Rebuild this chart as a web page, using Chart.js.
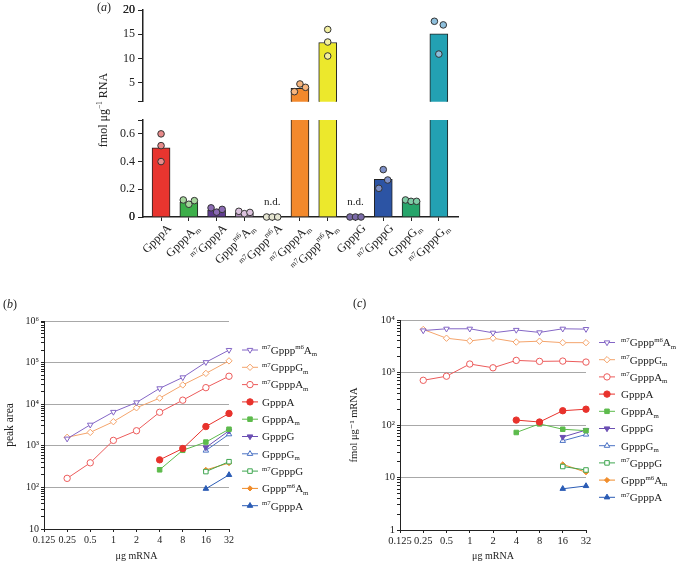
<!DOCTYPE html>
<html>
<head>
<meta charset="utf-8">
<script src="https://cdn.jsdelivr.net/npm/chart.js@4.4.1/dist/chart.umd.min.js"></script>
<style>
  body { margin: 0; background: #fff; }
  #wrap { position: relative; width: 681px; height: 562px; overflow: hidden; }
  canvas { position: absolute; }
</style>
</head>
<body>
<div id="wrap">
  <canvas id="aLow"  width="470" height="285" style="left:0;top:0"></canvas>
  <canvas id="aHigh" width="470" height="112" style="left:0;top:0"></canvas>
  <canvas id="b" width="340" height="272" style="left:0;top:290px"></canvas>
  <canvas id="c" width="341" height="272" style="left:340px;top:290px"></canvas>
</div>
<script>
// ---- (a) キャップ構造ごとの量 (fmol/μg RNA) ----
// {..} = 上付き, [..] = 下付き
var capNames = ["GpppA", "GpppA[m]", "{m7}GpppA", "Gppp{m6}A[m]", "{m7}Gppp{m6}A",
                "{m7}GpppA[m]", "{m7}Gppp{m6}A[m]", "GpppG", "{m7}GpppG", "GpppG[m]", "{m7}GpppG[m]"];
var capMeans = [0.50, 0.105, 0.05, 0.032, 0, 3.8, 13.3, 0, 0.272, 0.114, 15.1];
var capRep1  = [0.60, 0.123, 0.066, 0.041, 0, 3.1, 16.0, 0, 0.342, 0.123, 17.7];
var capRep2  = [0.515, 0.092, 0.035, 0.024, 0, 4.7, 13.4, 0, 0.267, 0.113, 16.95];
var capRep3  = [0.40, 0.118, 0.055, 0.033, 0, 4.0, 10.5, 0, 0.207, 0.113, 10.9];
var notDetected = [false, false, false, false, true, false, false, true, false, false, false];
var aLowTicks  = [0, 0.2, 0.4, 0.6];   // 下段の目盛り
var aHighTicks = [5, 10, 15, 20];      // 上段の目盛り
var aLowMax = 0.7, aHighMin = 1, aHighMax = 20;  // 軸の切れ目

// ---- (b)(c) 共通 ----
var doses  = [0.25, 0.5, 1, 2, 4, 8, 16, 32];
var xTicks = [0.125, 0.25, 0.5, 1, 2, 4, 8, 16, 32];
var seriesNames = ["{m7}Gppp{m6}A[m]", "{m7}GpppG[m]", "{m7}GpppA[m]", "GpppA", "GpppA[m]",
                   "GpppG", "GpppG[m]", "{m7}GpppG", "Gppp{m6}A[m]", "{m7}GpppA"];

// ---- (b) peak area ----
var b_m7Gpppm6Am = [1480, 3200, 6500, 11000, 24000, 44000, 102000, 200000];
var b_m7GpppGm   = [1600, 2100, 3800, 8200, 14000, 29000, 55000, 110000];
var b_m7GpppAm   = [165, 390, 1350, 2300, 6400, 12500, 25000, 47000];
var b_GpppA      = [null, null, null, null, 460, 860, 2900, 6000];
var b_GpppAm     = [null, null, null, null, 265, 780, 1230, 2500];
var b_GpppG      = [null, null, null, null, null, null, 910, 2300];
var b_GpppGm     = [null, null, null, null, null, null, 770, 1900];
var b_m7GpppG    = [null, null, null, null, null, null, 240, 415];
var b_Gpppm6Am   = [null, null, null, null, null, null, 263, 385];
var b_m7GpppA    = [null, null, null, null, null, null, 93, 200];
var bTickVals   = [10, 100, 1000, 1e4, 1e5, 1e6];
var bTickLabels = ["10", "10²", "10³", "10⁴", "10⁵", "10⁶"];

// ---- (c) fmol/μg mRNA ----
var c_m7Gpppm6Am = [6300, 6800, 6800, 5700, 6450, 5800, 6800, 6700];
var c_m7GpppGm   = [6600, 4500, 4000, 4500, 3800, 3950, 3700, 3700];
var c_m7GpppAm   = [710, 850, 1450, 1230, 1700, 1630, 1650, 1580];
var c_GpppA      = [null, null, null, null, 124, 114, 187, 200];
var c_GpppAm     = [null, null, null, null, 72, 105, 83, 78];
var c_GpppG      = [null, null, null, null, null, null, 59, 80];
var c_GpppGm     = [null, null, null, null, null, null, 50, 66];
var c_m7GpppG    = [null, null, null, null, null, null, 16.2, 13.9];
var c_Gpppm6Am   = [null, null, null, null, null, null, 17.8, 12.6];
var c_m7GpppA    = [null, null, null, null, null, null, 6.1, 6.9];
var cTickVals   = [1, 10, 100, 1000, 1e4];
var cTickLabels = ["1", "10", "10²", "10³", "10⁴"];

var bSeries = [b_m7Gpppm6Am, b_m7GpppGm, b_m7GpppAm, b_GpppA, b_GpppAm, b_GpppG, b_GpppGm, b_m7GpppG, b_Gpppm6Am, b_m7GpppA];
var cSeries = [c_m7Gpppm6Am, c_m7GpppGm, c_m7GpppAm, c_GpppA, c_GpppAm, c_GpppG, c_GpppGm, c_m7GpppG, c_Gpppm6Am, c_m7GpppA];

// 見た目
var barColors = ["#e8352f", "#3daf4a", "#5e3b8f", "#b594bf", "#888888", "#f3892c",
                 "#ece82c", "#5b4a8a", "#2c54a4", "#27a56b", "#23a1b3"];
var dotColors = ["#e88a8a", "#a5d69c", "#8b6bb3", "#dcc2de", "#e6e6d2", "#f7b57d",
                 "#f3f0a0", "#7a6aa8", "#7d90c8", "#7fcca6", "#8ebfdc"];
var seriesStyle = [
  { color: "#8466c6", shape: "triangle", rot: 180, open: true },
  { color: "#f4a46c", shape: "rectRot",  rot: 0,   open: true },
  { color: "#ec5b5b", shape: "circle",   rot: 0,   open: true },
  { color: "#e8322c", shape: "circle",   rot: 0,   open: false },
  { color: "#5dbb4c", shape: "rect",     rot: 0,   open: false },
  { color: "#6b4fb3", shape: "triangle", rot: 180, open: false },
  { color: "#4a72c4", shape: "triangle", rot: 0,   open: true },
  { color: "#3fa650", shape: "rect",     rot: 0,   open: true },
  { color: "#f08c2a", shape: "rectRot",  rot: 0,   open: false, r: 2.6 },
  { color: "#2b5cb5", shape: "triangle", rot: 0,   open: false }
];

var FONT = "'Liberation Serif', 'DejaVu Serif', serif";
Chart.defaults.font.family = FONT;
Chart.defaults.color = "#222";
Chart.defaults.animation = false;

// 上付き・下付きを含む文字列を描く
function parseRich(s) {
  var parts = [], re = /\{([^}]*)\}|\[([^\]]*)\]|([^{\[]+)/g, m;
  while ((m = re.exec(s))) {
    if (m[1] !== undefined) parts.push({ t: m[1], k: "sup" });
    else if (m[2] !== undefined) parts.push({ t: m[2], k: "sub" });
    else parts.push({ t: m[3], k: "n" });
  }
  return parts;
}
function drawRich(ctx, s, x, y, size, align) {
  var parts = parseRich(s), small = size * 0.62, w = 0;
  parts.forEach(function (p) {
    ctx.font = (p.k === "n" ? size : small) + "px " + FONT;
    p.w = ctx.measureText(p.t).width;
    w += p.w;
  });
  var cx = align === "right" ? x - w : align === "center" ? x - w / 2 : x;
  ctx.textAlign = "left";
  ctx.textBaseline = "alphabetic";
  parts.forEach(function (p) {
    ctx.font = (p.k === "n" ? size : small) + "px " + FONT;
    var dy = p.k === "sup" ? -size * 0.4 : p.k === "sub" ? size * 0.22 : 0;
    ctx.fillText(p.t, cx, y + dy);
    cx += p.w;
  });
}
function drawPanelLabel(ctx, letter, x, y) {
  ctx.save();
  ctx.fillStyle = "#222";
  ctx.textBaseline = "middle";
  ctx.textAlign = "left";
  ctx.font = "12px " + FONT;
  ctx.fillText("(", x, y);
  var w1 = ctx.measureText("(").width;
  ctx.font = "italic 12px " + FONT;
  ctx.fillText(letter, x + w1, y);
  var w2 = ctx.measureText(letter).width;
  ctx.font = "12px " + FONT;
  ctx.fillText(")", x + w1 + w2, y);
  ctx.restore();
}

// 近い点だけ横にずらす（簡易ビースウォーム）
function swarm(v, tol) {
  var n01 = Math.abs(v[0] - v[1]) < tol, n12 = Math.abs(v[1] - v[2]) < tol, n02 = Math.abs(v[0] - v[2]) < tol;
  if ((n01 ? 1 : 0) + (n12 ? 1 : 0) + (n02 ? 1 : 0) >= 2) return [-0.2, 0, 0.2];
  if (n01) return [-0.16, 0.16, 0];
  if (n12) return [0, 0.16, -0.16];
  if (n02) return [-0.16, 0, 0.16];
  return [0, 0, 0];
}

var aLowPts = [], aLowCols = [], aHighPts = [], aHighCols = [];
capNames.forEach(function (_, i) {
  var reps = [capRep1[i], capRep2[i], capRep3[i]];
  var tol = Math.max.apply(null, reps) >= aHighMin ? 1.7 : 0.065;
  var off = swarm(reps, tol);
  reps.forEach(function (v, k) {
    var p = { x: i + off[k], y: v };
    if (v < aLowMax) { aLowPts.push(p); aLowCols.push(dotColors[i]); }
    else if (v >= aHighMin) { aHighPts.push(p); aHighCols.push(dotColors[i]); }
  });
});
var barData = capMeans.map(function (v, i) { return { x: i, y: v }; });

function aXScale(show) {
  return {
    type: "linear", min: -0.65, max: 10.69, display: show, offset: false,
    afterBuildTicks: function (s) { s.ticks = capNames.map(function (_, i) { return { value: i }; }); },
    afterFit: function (s) { if (show) s.height = 68; },
    grid: { drawOnChartArea: false, offset: false, tickLength: 4, tickColor: "#222" },
    border: { color: "#222", width: 1.5 },
    ticks: { display: false }
  };
}
function aYScale(min, max, ticks) {
  return {
    min: min, max: max,
    afterBuildTicks: function (s) { s.ticks = [min].concat(ticks, [max]).map(function (v) { return { value: v }; }); },
    afterFit: function (s) { s.width = 143; },
    grid: { drawOnChartArea: false, tickLength: 5, tickColor: "#222" },
    border: { color: "#222", width: 1.5 },
    ticks: {
      font: { size: 12 }, padding: 3, color: "#222", autoSkip: false,
      callback: function (v) { return ticks.indexOf(v) >= 0 ? String(v) : ""; }
    }
  };
}
function aDatasets(pts, cols) {
  return [
    { type: "scatter", data: pts, pointBackgroundColor: cols, pointBorderColor: "#333",
      pointBorderWidth: 1, pointRadius: 3.3, clip: false, order: 1 },
    { type: "bar", data: barData, backgroundColor: barColors, borderColor: "#222",
      borderWidth: 1, barThickness: 18, clip: 0, order: 2 }
  ];
}

var aLowDeco = {
  id: "aLowDeco",
  afterDraw: function (chart) {
    var ctx = chart.ctx, xs = chart.scales.x, ys = chart.scales.y;
    var y0 = ys.getPixelForValue(0);
    ctx.save();
    ctx.fillStyle = "#222";
    capNames.forEach(function (name, i) {
      var px = xs.getPixelForValue(i);
      ctx.save();
      ctx.translate(px + 8, y0 + 9);
      ctx.rotate(-Math.PI / 4);
      drawRich(ctx, name, 0, 4, 12, "right");
      ctx.restore();
      if (notDetected[i]) {
        ctx.font = "11px " + FONT;
        ctx.textAlign = "center";
        ctx.textBaseline = "middle";
        ctx.fillText("n.d.", px, y0 - 15);
      }
    });
    ctx.translate(103, 110);
    ctx.rotate(-Math.PI / 2);
    drawRich(ctx, "fmol μg{−1} RNA", 0, 4, 12, "center");
    ctx.restore();
    drawPanelLabel(ctx, "a", 97, 8);
  }
};

new Chart(document.getElementById("aLow"), {
  type: "bar",
  data: { datasets: aDatasets(aLowPts, aLowCols) },
  options: {
    responsive: false,
    layout: { padding: { top: 120, right: 12, left: 0, bottom: 0 } },
    plugins: { legend: { display: false }, tooltip: { enabled: false } },
    scales: { x: aXScale(true), y: aYScale(0, aLowMax, aLowTicks) }
  },
  plugins: [aLowDeco]
});

new Chart(document.getElementById("aHigh"), {
  type: "bar",
  data: { datasets: aDatasets(aHighPts, aHighCols) },
  options: {
    responsive: false,
    layout: { padding: { top: 7, right: 12, left: 0, bottom: 3 } },
    plugins: { legend: { display: false }, tooltip: { enabled: false } },
    scales: { x: aXScale(false), y: aYScale(aHighMin, aHighMax, aHighTicks) }
  }
});

// ---- (b)(c) 折れ線 ----
function logTicks(lo, hi) {
  var t = [];
  for (var d = lo; d < hi; d *= 10)
    for (var m = 1; m < 10; m++) t.push({ value: d * m, major: m === 1 });
  t.push({ value: hi, major: true });
  return t;
}

var richLegend = {
  id: "richLegend",
  afterDraw: function (chart, args, o) {
    var ctx = chart.ctx;
    ctx.save();
    chart.data.datasets.forEach(function (ds, i) {
      var y = o.top + i * o.step;
      ctx.strokeStyle = ds.borderColor;
      ctx.lineWidth = 1;
      ctx.beginPath();
      ctx.moveTo(o.x - 8, y);
      ctx.lineTo(o.x + 8, y);
      ctx.stroke();
      ctx.fillStyle = ds.pointBackgroundColor;
      ctx.strokeStyle = ds.pointBorderColor;
      ctx.lineWidth = ds.pointBorderWidth;
      Chart.helpers.drawPoint(ctx, { pointStyle: ds.pointStyle, rotation: ds.pointRotation,
        radius: ds.pointRadius, borderWidth: ds.pointBorderWidth }, o.x, y);
      ctx.fillStyle = "#222";
      drawRich(ctx, ds.label, o.x + o.gap, y + o.size * 0.35, o.size, "left");
    });
    ctx.restore();
    drawPanelLabel(ctx, o.panel, o.px, o.py);
  }
};

function lineDatasets(series) {
  return series.map(function (vals, i) {
    var st = seriesStyle[i];
    var pts = [];
    doses.forEach(function (x, k) { if (vals[k] !== null) pts.push({ x: x, y: vals[k] }); });
    return {
      label: seriesNames[i], data: pts, showLine: true,
      borderColor: st.color, borderWidth: 1,
      pointStyle: st.shape, pointRotation: st.rot, pointRadius: st.r || 3.2,
      pointBackgroundColor: st.open ? "#fff" : st.color, pointBorderColor: st.color,
      pointBorderWidth: 1, clip: false
    };
  });
}

function lineChart(id, series, opt) {
  new Chart(document.getElementById(id), {
    type: "scatter",
    data: { datasets: lineDatasets(series) },
    options: {
      responsive: false,
      layout: { padding: { top: opt.top, right: opt.right, left: 0, bottom: 0 } },
      plugins: { legend: { display: false }, tooltip: { enabled: false }, richLegend: opt.legend },
      scales: {
        x: {
          type: "logarithmic", min: xTicks[0], max: xTicks[xTicks.length - 1],
          afterBuildTicks: function (s) { s.ticks = xTicks.map(function (v) { return { value: v }; }); },
          afterFit: function (s) { s.height = opt.xh; },
          grid: { drawOnChartArea: false, tickLength: 3, tickColor: "#222" },
          border: { color: "#222", width: 1 },
          ticks: { font: { size: opt.tick }, padding: 2, maxRotation: 0, autoSkip: false,
                   callback: function (v) { return String(v); } },
          title: { display: true, text: "μg mRNA", font: { size: 10 }, padding: 0 }
        },
        y: {
          type: "logarithmic", min: opt.yVals[0], max: opt.yVals[opt.yVals.length - 1],
          afterBuildTicks: function (s) { s.ticks = logTicks(opt.yVals[0], opt.yVals[opt.yVals.length - 1]); },
          afterFit: function (s) { s.width = opt.yw; },
          grid: {
            color: function (c) { return c.tick && c.tick.major ? "#a8a8a8" : "rgba(0,0,0,0)"; },
            tickColor: "#222", tickLength: 3
          },
          border: { color: "#222", width: 1 },
          ticks: { font: { size: opt.tick }, padding: 2, autoSkip: false,
                   callback: function (v) { var k = opt.yVals.indexOf(v); return k < 0 ? "" : opt.yLabels[k]; } },
          title: { display: true, text: opt.yTitle, font: { size: opt.titleSize }, padding: { top: opt.titlePad, bottom: 0 } }
        }
      }
    },
    plugins: [richLegend]
  });
}

lineChart("b", bSeries, {
  top: 31, right: 111, xh: 33, yw: 44, tick: 10, titlePad: 3, titleSize: 11.5,
  yVals: bTickVals, yLabels: bTickLabels, yTitle: "peak area",
  legend: { x: 250, top: 60, step: 17.3, gap: 12, size: 11, panel: "b", px: 3, py: 15 }
});
lineChart("c", cSeries, {
  top: 30, right: 95, xh: 32, yw: 60, tick: 10.5, titlePad: 8, titleSize: 10.5,
  yVals: cTickVals, yLabels: cTickLabels, yTitle: "fmol μg⁻¹ mRNA",
  legend: { x: 267, top: 52.5, step: 17.2, gap: 14, size: 11, panel: "c", px: 13, py: 14 }
});
</script>
</body>
</html>
